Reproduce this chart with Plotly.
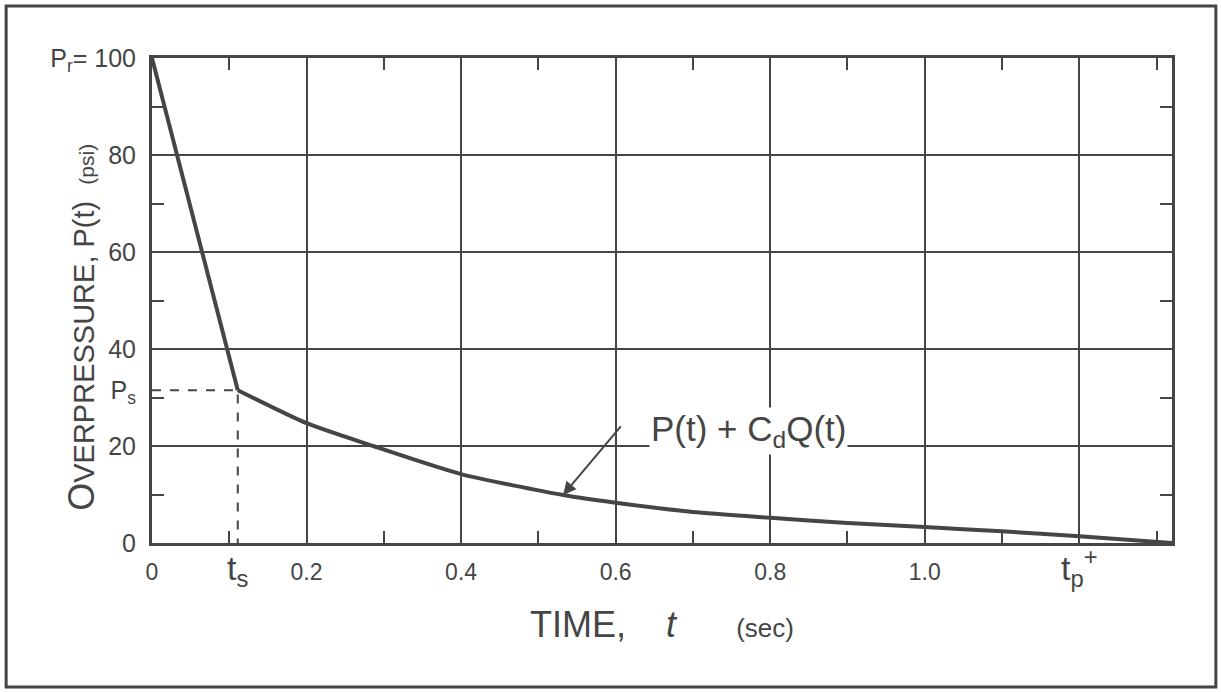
import plotly.graph_objects as go

# Overpressure history: reflected peak, then clearing to stagnation pressure, then decay
T_S = 0.111          # clearing time t_s (sec)
P_S = 31.5           # stagnation overpressure P_s (psi)
P_R = 100            # reflected overpressure P_r (psi)
T_P = 1.2            # positive-phase marker t_p+ (sec)
T_END = 1.32

clear_t = [0, T_S]
clear_p = [P_R, P_S]

decay_t = [T_S, 0.2, 0.286, 0.4, 0.532, 0.6, 0.7, 0.8, 0.9, 1.0, 1.1, 1.2, T_END]
decay_p = [P_S, 24.7, 20.0, 14.2, 9.9, 8.3, 6.4, 5.2, 4.1, 3.3, 2.4, 1.4, 0.0]

x_grid = [0.2, 0.4, 0.6, 0.8, 1.0, 1.2]
x_minor = [0.1, 0.3, 0.5, 0.7, 0.9, 1.1, 1.3]
y_grid = [20, 40, 60, 80]
y_minor = [10, 30, 50, 70, 90]

x_tickvals = [0, T_S, 0.2, 0.4, 0.6, 0.8, 1.0, T_P]
x_ticktext = ["0", "<span style='font-size:34px'>t<sub>s</sub></span>", "0.2", "0.4", "0.6",
              "0.8", "1.0", "<span style='font-size:34px'>t<sub>p</sub><sup>+</sup></span>"]
y_tickvals = [0, 20, 40, P_S, 60, 80, 100]
y_ticktext = ["0", "20", "40", "P<sub>s</sub>", "60", "80", "P<sub>r</sub>= 100"]

# pointer from the curve label down to the decay branch
LABEL_T, LABEL_P = 0.772, 23.0
POINT_T, POINT_P = 0.532, 9.9

INK = "#454545"
FONT = "Liberation Sans, sans-serif"

fig = go.Figure()

# guide lines to t_s and P_s
fig.add_trace(go.Scatter(x=[0, T_S, T_S], y=[P_S, P_S, 0], mode="lines",
                         line=dict(color=INK, width=2, dash="dash"), hoverinfo="skip"))
fig.add_trace(go.Scatter(x=clear_t, y=clear_p, mode="lines",
                         line=dict(color=INK, width=4), hoverinfo="skip"))
fig.add_trace(go.Scatter(x=decay_t, y=decay_p, mode="lines",
                         line=dict(color=INK, width=4, shape="spline", smoothing=0.6),
                         hoverinfo="skip"))
# invisible trace carrying the top/right grid axes
fig.add_trace(go.Scatter(x=decay_t, y=decay_p, xaxis="x2", yaxis="y2", mode="lines",
                         line=dict(width=0), opacity=0, hoverinfo="skip"))

fig.update_layout(
    width=1221, height=692,
    margin=dict(l=152, r=49, t=58, b=149),
    paper_bgcolor="white", plot_bgcolor="white",
    showlegend=False,
    font=dict(family=FONT, color=INK),
    xaxis=dict(range=[0, T_END], tickvals=x_tickvals, ticktext=x_ticktext,
               tickfont=dict(size=23, family=FONT, color=INK), ticks="",
               ticklabelstandoff=6, showgrid=False, zeroline=False,
               showline=True, linewidth=3, linecolor=INK, mirror=True,
               minor=dict(tickvals=x_minor, ticks="inside", ticklen=12, tickwidth=2,
                          tickcolor=INK, showgrid=False),
               title=dict(text="TIME,    <i>t</i>      <span style='font-size:26px'>(sec)</span>",
                          font=dict(size=36), standoff=22)),
    yaxis=dict(range=[0, 100], tickvals=y_tickvals, ticktext=y_ticktext,
               tickfont=dict(size=25, family=FONT, color=INK), ticks="",
               ticklabelstandoff=8, showgrid=False, zeroline=False,
               showline=True, linewidth=3, linecolor=INK, mirror=True,
               minor=dict(tickvals=y_minor, ticks="inside", ticklen=12, tickwidth=2,
                          tickcolor=INK, showgrid=False)),
    xaxis2=dict(overlaying="x", matches="x", side="top", tickvals=x_grid,
                showticklabels=False, ticks="", showgrid=True, gridcolor=INK,
                gridwidth=1.5, zeroline=False, showline=False,
                minor=dict(tickvals=x_minor, ticks="inside", ticklen=12, tickwidth=2,
                           tickcolor=INK, showgrid=False)),
    yaxis2=dict(overlaying="y", matches="y", side="right", tickvals=y_grid,
                showticklabels=False, ticks="", showgrid=True, gridcolor=INK,
                gridwidth=1.5, zeroline=False, showline=False,
                minor=dict(tickvals=y_minor, ticks="inside", ticklen=12, tickwidth=2,
                           tickcolor=INK, showgrid=False)),
)

# vertical axis title
fig.add_annotation(
    xref="paper", yref="paper", x=-0.069, y=0.445, xanchor="center", yanchor="middle",
    textangle=-90, showarrow=False,
    text="<span style='font-size:36px'>O</span>VERPRESSURE, P(t)  "
         "<span style='font-size:21px'>(psi)</span>",
    font=dict(size=29, color=INK))

# curve label and its pointer
fig.add_annotation(x=LABEL_T, y=LABEL_P, text="P(t) + C<sub>d</sub>Q(t)", showarrow=False,
                   font=dict(size=35, color=INK), bgcolor="white")
fig.add_annotation(x=POINT_T, y=POINT_P, ax=59, ay=-70, text="",
                   showarrow=True, arrowhead=2, arrowsize=1.3, arrowwidth=2,
                   arrowcolor=INK, standoff=0)

# outer frame
fig.add_shape(type="rect", xref="paper", yref="paper",
              x0=-0.143, x1=1.043, y0=-0.297, y1=1.107,
              line=dict(color=INK, width=3), layer="above")

fig.write_html("out.html")
